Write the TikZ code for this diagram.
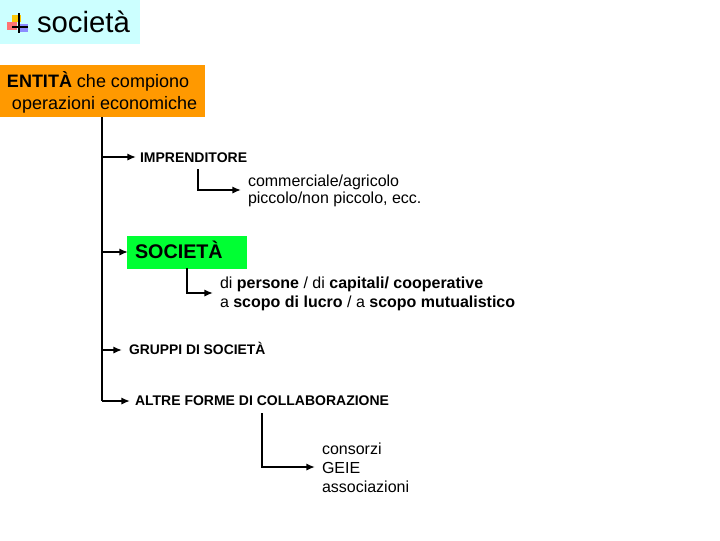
\documentclass[tikz,border=0pt]{standalone}
\usepackage{fontspec}
\setmainfont{Liberation Sans}
\usetikzlibrary{arrows.meta}
\definecolor{titlebg}{RGB}{204,255,255}
\definecolor{orangebox}{RGB}{255,153,0}
\definecolor{greenbox}{RGB}{0,255,51}
\tikzset{
  x=0.75pt,y=-0.75pt,
  lab/.style={inner sep=0pt,outer sep=0pt,anchor=base west,text=black,align=left},
  plain/.style={lab,font=\fontsize{12pt}{14pt}\selectfont},
  caps/.style={lab,font=\bfseries\fontsize{10.5pt}{12pt}\selectfont},
  trunk/.style={draw=black,line width=1.5pt},
  arr/.style={draw=black,line width=1.5pt,-{Latex[length=6.5pt,width=5.5pt]}},
}
\begin{document}
\begin{tikzpicture}
\useasboundingbox (0,0) rectangle (720,540);
% title
\node[fill=titlebg,minimum width=105pt,minimum height=33pt,inner sep=0pt,anchor=north west] (titlebox) at (0,0) {};
\node[lab,font=\fontsize{22pt}{24pt}\selectfont] (title) at (37,32) {società};
% icon
\fill[red!55!white] (7,22) rectangle (17,30);
\fill[yellow!60!orange] (12,15) rectangle (21,22);
\fill[blue!45!white] (18,24) rectangle (28,32);
\draw[black,line width=1.2pt] (19,13) -- (19,33);
\draw[black,line width=1.2pt] (12,27) -- (28,27);
% entity box
\node[fill=orangebox,minimum width=153.75pt,minimum height=39pt,inner sep=0pt,anchor=north west] (entbox) at (0,65) {};
\node[plain,font=\fontsize{13.5pt}{15pt}\selectfont] (ent1) at (7,87) {\textbf{ENTITÀ} che compiono};
\node[plain,font=\fontsize{13.5pt}{15pt}\selectfont] (ent2) at (12,109) {operazioni economiche};
% societa box
\node[fill=greenbox,minimum width=90pt,minimum height=24.75pt,inner sep=0pt,anchor=north west] (socbox) at (127,236) {};
\node[lab,font=\bfseries\fontsize{14.8pt}{16pt}\selectfont] (soc) at (135,258) {SOCIETÀ};
% labels
\node[caps] (impr) at (140,162) {IMPRENDITORE};
\node[plain] (comm1) at (248,186) {commerciale/agricolo};
\node[plain] (comm2) at (248,203) {piccolo/non piccolo, ecc.};
\node[plain] (di1) at (220,288) {di \textbf{persone} / di \textbf{capitali/ cooperative}};
\node[plain] (di2) at (220,307) {a \textbf{scopo di lucro} / a \textbf{scopo mutualistico}};
\node[caps,font=\bfseries\fontsize{10.4pt}{12pt}\selectfont] (gruppi) at (129,354) {GRUPPI DI SOCIETÀ};
\node[caps] (altre) at (135,405) {ALTRE FORME DI COLLABORAZIONE};
\node[plain] (cons) at (322,454) {consorzi};
\node[plain] (geie) at (322,473) {GEIE};
\node[plain] (ass) at (322,492) {associazioni};
% connector anchors
\coordinate (t0) at (102,117);
\coordinate (t1) at (102,157);
\coordinate (t2) at (102,252);
\coordinate (t3) at (102,350);
\coordinate (t4) at (102,401);
\coordinate (e1) at (136,157);
\coordinate (e2) at (128,252);
\coordinate (e3) at (122,350);
\coordinate (e4) at (130,401);
% trunk and branches
\draw[trunk] (t0) -- (t4);
\draw[arr] (t1) -- (e1);
\draw[arr] (t2) -- (e2);
\draw[arr] (t3) -- (e3);
\draw[arr] (t4) -- (e4);
% sub branches
\coordinate (a1) at (198,169);
\coordinate (a1c) at (198,190);
\coordinate (a1e) at (241,190);
\draw[arr] (a1) -- (a1c) -- (a1e);
\coordinate (a2) at (187,268);
\coordinate (a2c) at (187,293);
\coordinate (a2e) at (213,293);
\draw[arr] (a2) -- (a2c) -- (a2e);
\coordinate (a3) at (262,413);
\coordinate (a3c) at (262,467);
\coordinate (a3e) at (315,467);
\draw[arr] (a3) -- (a3c) -- (a3e);
\end{tikzpicture}
\end{document}
